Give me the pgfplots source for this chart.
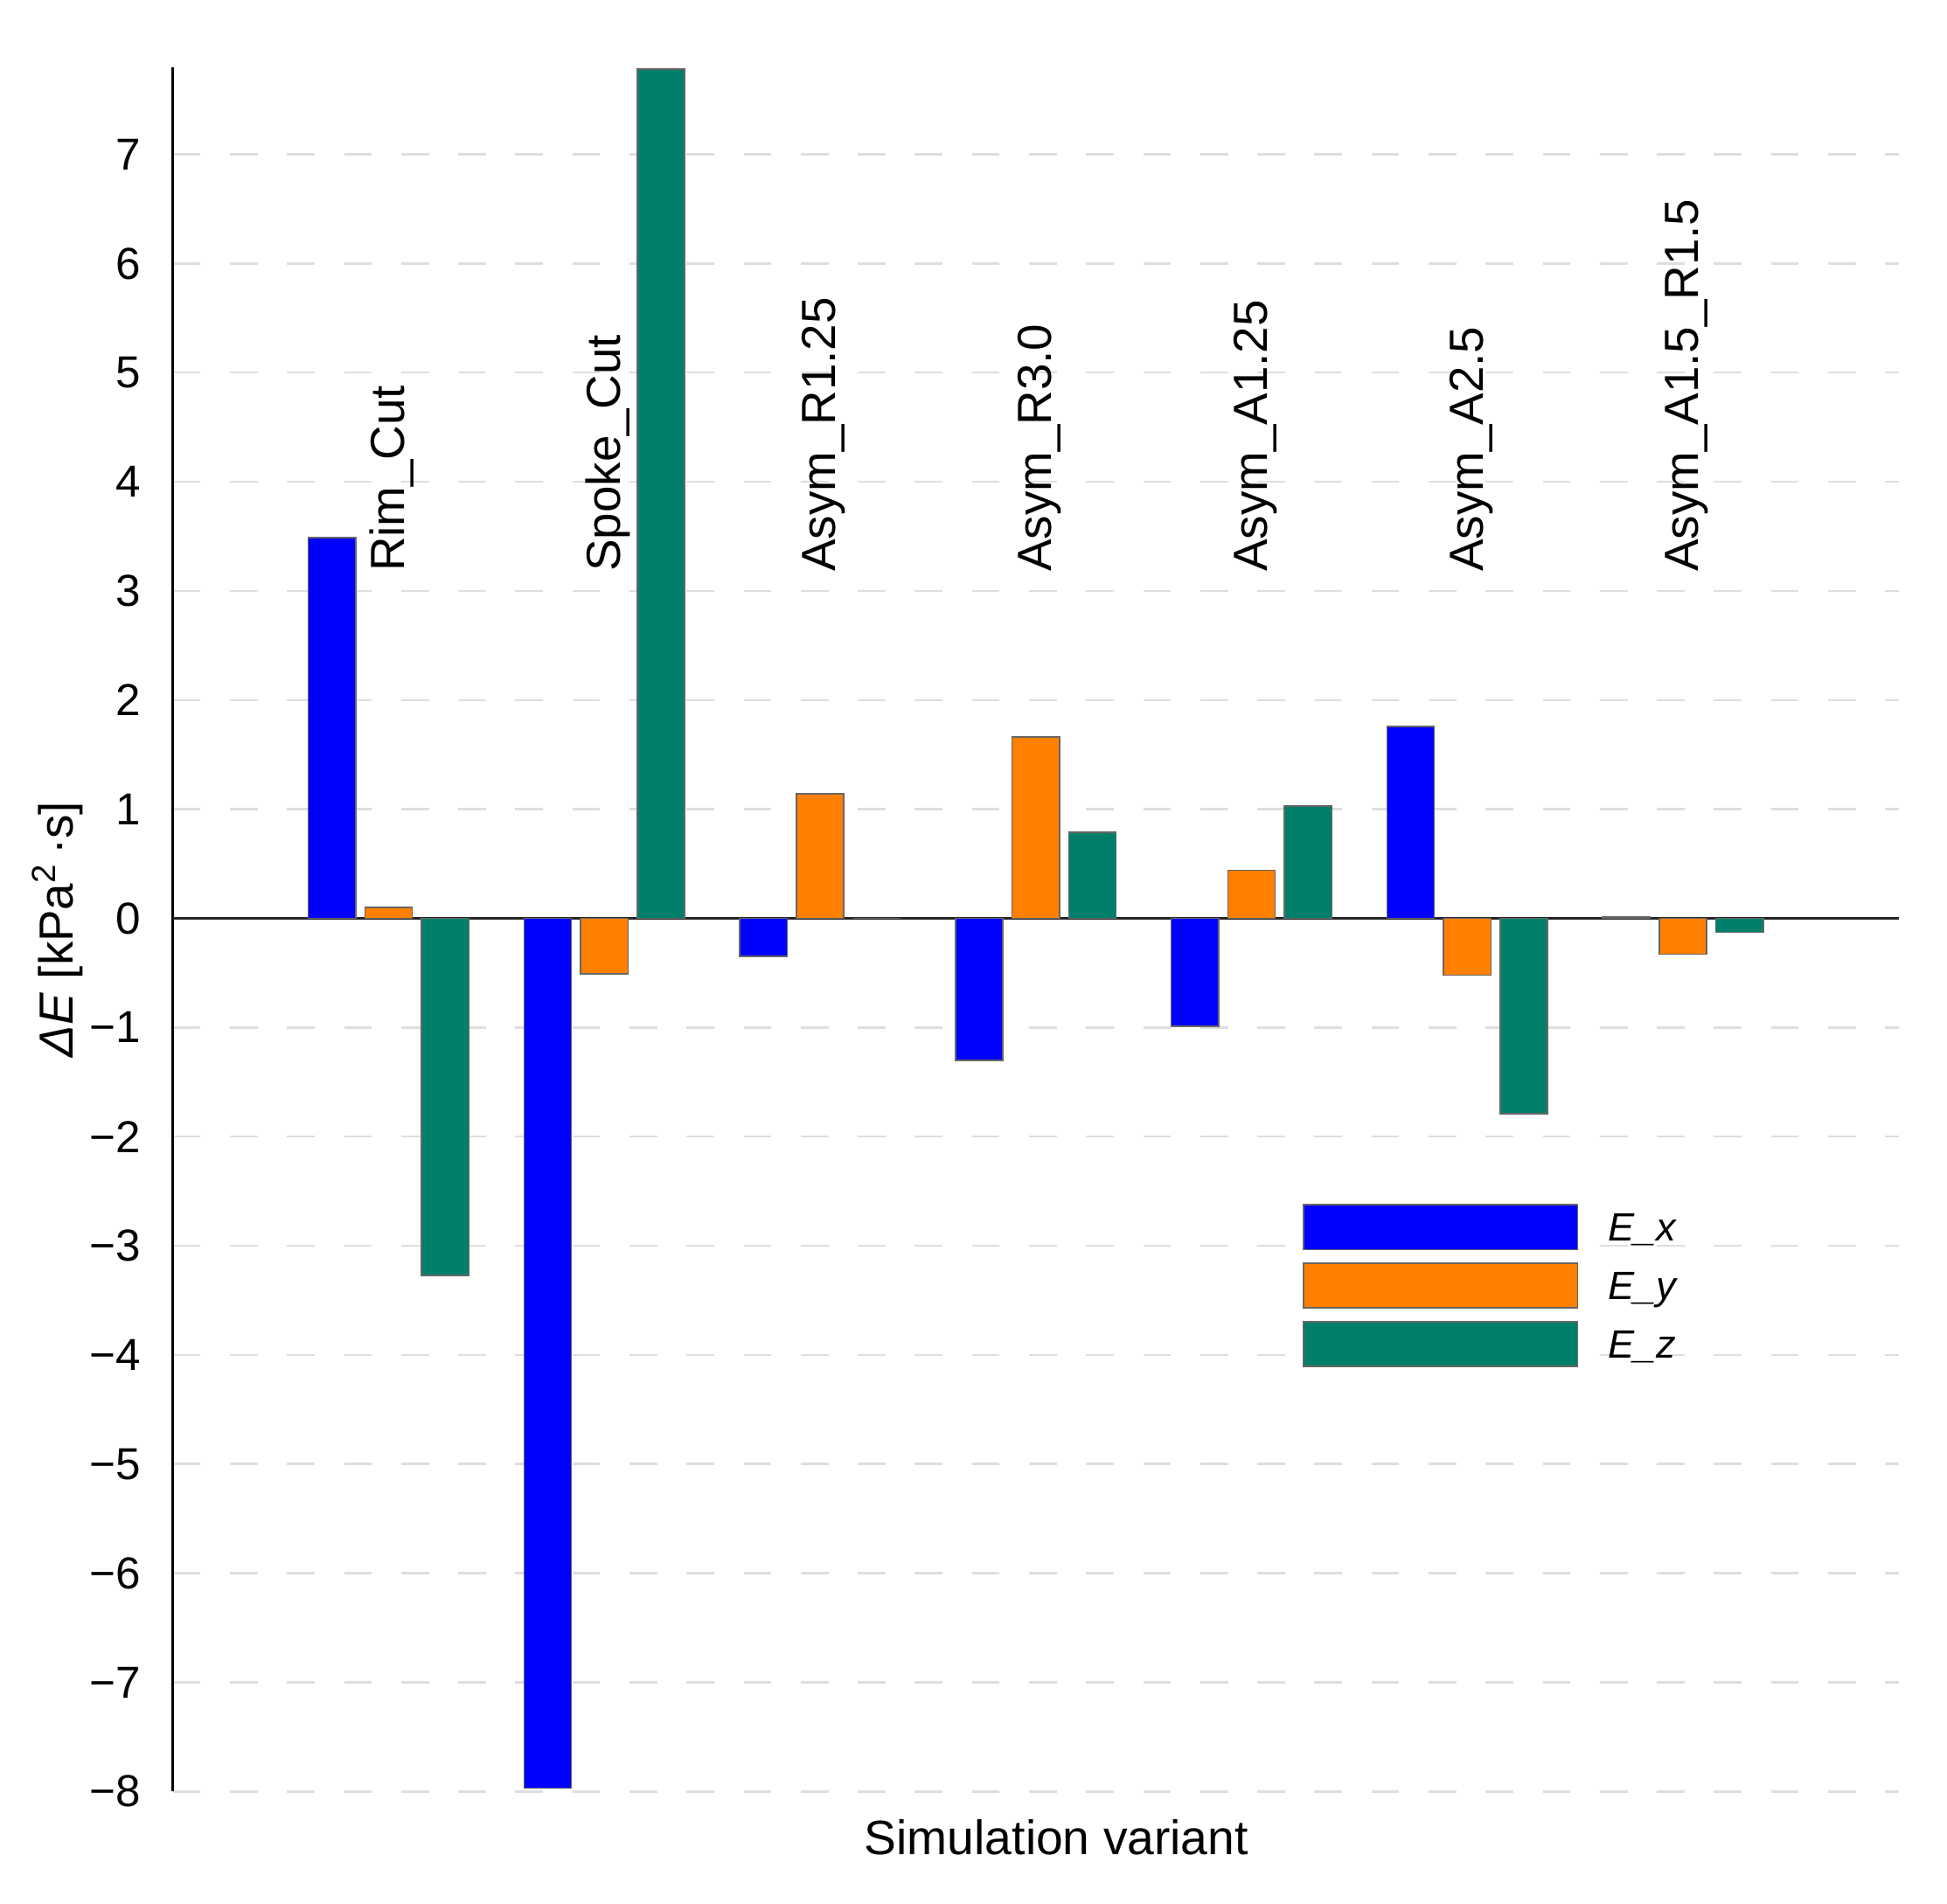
\documentclass[border=0pt]{standalone}
\usepackage{fontspec}
\setmainfont{Liberation Sans}
\usepackage{pgfplots}
\pgfplotsset{compat=1.18}
\definecolor{cEx}{RGB}{0,0,255}
\definecolor{cEy}{RGB}{255,128,0}
\definecolor{cEz}{RGB}{0,128,106}
\definecolor{gridc}{RGB}{222,222,222}
\begin{document}
\begin{tikzpicture}
\useasboundingbox (-13.84mm,-8.94mm) rectangle (142.05mm,143.45mm);
\begin{axis}[
  at={(0,0)}, anchor=south west,
  scale only axis, width=138.18mm, height=138.08mm,
  xmin=-1, xmax=7, ymin=-8, ymax=7.8,
  axis x line*=bottom, axis y line*=left,
  x axis line style={draw=none},
  y axis line style={draw=black, line width=0.6pt, -},
  xtick=\empty,
  ytick={-8,-7,...,7},
  yticklabels={−8,−7,−6,−5,−4,−3,−2,−1,0,1,2,3,4,5,6,7},
  major tick length=0pt,
  yticklabel style={font=\fontsize{10.2}{12}\selectfont, inner sep=0pt, xshift=-2.5mm},
  ymajorgrids,
  major grid style={draw=gridc, line width=0.5pt, dash pattern=on 2.22mm off 2.35mm},
  extra y ticks={0}, extra y tick labels={},
  extra y tick style={grid=major, major grid style={solid, draw=black!85, line width=0.6pt}},
  xlabel={Simulation variant},
  xlabel style={at={(axis description cs:0.512,-0.0365)}, anchor=base, font=\fontsize{11}{13}\selectfont},
  ylabel={\textit{ΔE} [kPa\textsuperscript{2}\,·s]},
  ylabel style={at={(axis description cs:-0.058,0.5)}, anchor=base, font=\fontsize{10.9}{13}\selectfont},
  ybar=2.09pt, bar width=0.22,
  every axis plot post/.append style={legend image code/.code={%
    \draw[#1, line width=0.3pt] (0mm,-1.48mm) rectangle (21.96mm,2.10mm);}},
  legend style={at={(0.6547,0.3406)}, anchor=north west, draw=none, fill=none, inner sep=0pt, outer sep=0pt,
    row sep=1.0mm, column sep=2.4mm, nodes={inner sep=0pt}, font=\fontsize{9}{11}\selectfont},
  legend cell align=left,
]
\addplot[fill=cEx, draw=black!60, line width=0.3pt] coordinates {
  (0,3.49) (1,-7.97) (2,-0.35) (3,-1.30) (4,-0.99) (5,1.76) (6,0.01)};
\addplot[fill=cEy, draw=black!60, line width=0.3pt] coordinates {
  (0,0.10) (1,-0.51) (2,1.14) (3,1.66) (4,0.44) (5,-0.52) (6,-0.33)};
\addplot[fill=cEz, draw=black!60, line width=0.3pt] coordinates {
  (0,-3.27) (1,7.78) (2,0) (3,0.79) (4,1.03) (5,-1.79) (6,-0.13)};
\legend{\textit{E\_x}\vphantom{y},\textit{E\_y},\textit{E\_z}\vphantom{y}}
\begin{scope}[every node/.style={rotate=90, anchor=base west, inner sep=0pt, font=\fontsize{10.9}{13}\selectfont}]
\node at (axis cs:0.0726,3.17) {Rim\_Cut};
\node at (axis cs:1.0726,3.17) {Spoke\_Cut};
\node at (axis cs:2.0726,3.17) {Asym\_R1.25};
\node at (axis cs:3.0726,3.17) {Asym\_R3.0};
\node at (axis cs:4.0726,3.17) {Asym\_A1.25};
\node at (axis cs:5.0726,3.17) {Asym\_A2.5};
\node at (axis cs:6.0726,3.17) {Asym\_A1.5\_R1.5};
\end{scope}
\end{axis}
\end{tikzpicture}
\end{document}
